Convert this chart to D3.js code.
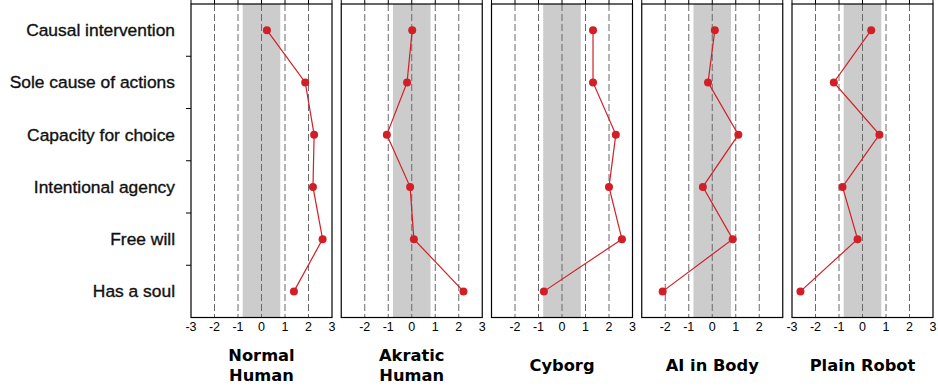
<!DOCTYPE html>
<html><head><meta charset="utf-8">
<script src="https://cdn.jsdelivr.net/npm/d3@7"></script>
<style>body{margin:0;background:#fff}svg{display:block}</style>
</head><body><svg id="c" width="938" height="387"></svg>
<script>
const categories = ["Causal intervention","Sole cause of actions","Capacity for choice","Intentional agency","Free will","Has a soul"];
const panelTitles = [["Normal","Human"],["Akratic","Human"],["Cyborg"],["AI in Body"],["Plain Robot"]];
const normalHuman = [0.23, 1.86, 2.24, 2.19, 2.6, 1.38];
const akraticHuman = [0.02, -0.2, -1.06, -0.07, 0.09, 2.2];
const cyborg = [1.32, 1.32, 2.29, 2.0, 2.55, -0.77];
const aiInBody = [0.11, -0.18, 1.11, -0.4, 0.87, -2.11];
const plainRobot = [0.37, -1.22, 0.72, -0.85, -0.21, -2.64];
const seriesList = [normalHuman, akraticHuman, cyborg, aiInBody, plainRobot];
const tickLabels = [[-3,-2,-1,0,1,2,3],[-2,-1,0,1,2,3],[-2,-1,0,1,2,3],[-2,-1,0,1,2],[-3,-2,-1,0,1,2,3]];
const neutralBand = [-0.8, 0.8];
const gridValues = [-2,-1,0,1,2];
const topTicks = [-3,-2,-1,0,1,2,3];

(function(){
const svg = d3.select("#c");
const plotTop = 4, plotBottom = 317.5, panelW = 141, step = 150.25, left0 = 191;
const y = d3.scaleBand().domain(categories).range([plotTop, plotBottom]);
const red = "#d21f27";

svg.append("g").selectAll("text").data(categories).join("text")
  .attr("x", 175).attr("y", d => y(d) + y.bandwidth()/2 + 6)
  .attr("text-anchor","end").attr("font-family","Liberation Sans, Arial, sans-serif")
  .attr("font-size", 17.4).attr("fill","#111").attr("stroke","#111").attr("stroke-width",0.35)
  .text(d => d);

const bounds = categories.slice(1).map(c => y(c));
svg.append("g").selectAll("line").data(bounds).join("line")
  .attr("x1", left0 - 5).attr("x2", left0).attr("y1", d => d).attr("y2", d => d)
  .attr("stroke","#000").attr("stroke-width",1);

seriesList.forEach((vals, i) => {
  const x0 = left0 + i*step;
  const x = d3.scaleLinear().domain([-3,3]).range([x0, x0 + panelW]);
  const g = svg.append("g");
  g.append("rect").attr("x", x(neutralBand[0])).attr("y", plotTop)
    .attr("width", x(neutralBand[1]) - x(neutralBand[0])).attr("height", plotBottom - plotTop)
    .attr("fill","#cccccc");
  g.selectAll("line.grid").data(gridValues).join("line").attr("class","grid")
    .attr("x1", d => x(d)).attr("x2", d => x(d)).attr("y1", plotTop).attr("y2", plotBottom)
    .attr("stroke","#6a6a6a").attr("stroke-width",1).attr("stroke-dasharray","7,3");
  g.selectAll("line.tt").data(topTicks).join("line").attr("class","tt")
    .attr("x1", d => x(d)).attr("x2", d => x(d)).attr("y1", 0).attr("y2", plotTop)
    .attr("stroke","#000").attr("stroke-width",1);
  g.append("rect").attr("x", x(-3)).attr("y", plotTop).attr("width", panelW).attr("height", plotBottom - plotTop)
    .attr("fill","none").attr("stroke","#000").attr("stroke-width",1.2);
  g.selectAll("text.tl").data(tickLabels[i]).join("text").attr("class","tl")
    .attr("x", d => x(d)).attr("y", 330.5).attr("text-anchor","middle")
    .attr("font-family","Liberation Sans, Arial, sans-serif").attr("font-size", 12.5).attr("fill","#000")
    .text(d => d < 0 ? "-" + Math.abs(d) : d);
  const line = d3.line().x(d => x(d[0])).y(d => y(d[1]) + y.bandwidth()/2);
  const pts = vals.map((v, j) => [v, categories[j]]);
  g.append("path").attr("d", line(pts)).attr("fill","none").attr("stroke", red).attr("stroke-width",1.2);
  g.selectAll("circle").data(pts).join("circle")
    .attr("cx", d => x(d[0])).attr("cy", d => y(d[1]) + y.bandwidth()/2).attr("r", 4).attr("fill", red);
  const title = panelTitles[i];
  const cx = x(0);
  const baseY = title.length === 2 ? 361 : 371;
  title.forEach((t, k) => {
    g.append("text").attr("x", cx).attr("y", baseY + k*20).attr("text-anchor","middle")
      .attr("font-family","DejaVu Sans, Verdana, sans-serif").attr("font-weight","bold")
      .attr("font-size", 16.3).attr("fill","#000").text(t);
  });
});
})();
</script></body></html>
